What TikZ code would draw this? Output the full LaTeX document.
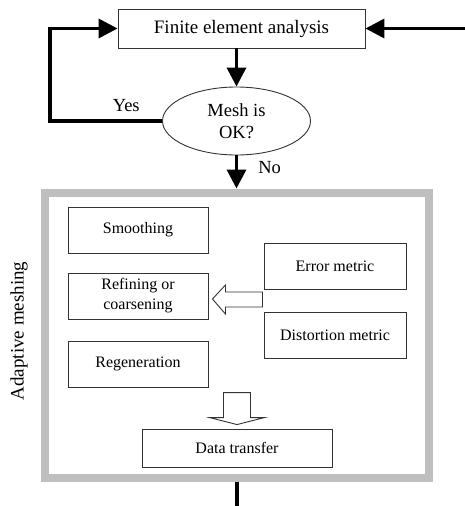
\documentclass[tikz,border=0pt]{standalone}
\usepackage{fontspec}
\setmainfont{Liberation Serif}
\usetikzlibrary{arrows.meta}
\usetikzlibrary{shapes}
\usetikzlibrary{calc}

\begin{document}
\begin{tikzpicture}[x=1pt, y=-1pt, >={Triangle[length=19pt,width=19pt]},
  flow/.style={line width=3.5pt},
  thin/.style={draw=black!80, line width=0.9pt},
  box/.style={thin, minimum width=140pt, minimum height=46pt, inner sep=0pt,
    align=center, font=\fontsize{16}{20}\selectfont},
  hollow/.style={thin, fill=white, line join=miter},
  lbl/.style={inner sep=0pt, font=\fontsize{18.5}{22}\selectfont}]
\useasboundingbox (0,0) rectangle (465,506);

%analysis loop
\node[thin, minimum width=247pt, minimum height=39pt, inner sep=0pt,
  font=\fontsize{19}{22}\selectfont] (fea) at (241.5,28.5) {Finite element analysis};
\node[thin, ellipse, minimum width=148pt, minimum height=68pt, inner sep=0pt,
  align=center, font=\fontsize{18.5}{22}\selectfont] (ok) at (236.5,121) {Mesh is\\OK?};
\coordinate (in) at (465,28.5);
\coordinate (out) at (237,506);

\draw[flow,->] (in) -- (fea.east);
\draw[flow,->] (ok.north |- fea.south) -- (ok.north);
\draw[flow,->] (ok.west) -- node[lbl, above=8pt, pos=0.32] {Yes} ++(-112,0) |- (fea.west);

%adaptive meshing
\node[draw=black!25, line width=8pt, minimum width=383.5pt, minimum height=285pt,
  inner sep=0pt] (adapt) at (236.75,335) {};
\node[rotate=90, font=\fontsize{19}{22}\selectfont] (side) at (19,331) {Adaptive meshing};

\draw[flow,->] (ok.south) -- node[lbl, right, xshift=20pt, pos=0.38] {No} (ok.south |- adapt.north);
\draw[flow] (adapt.south) -- (adapt.south |- out);

\foreach \name/\y/\txt in {smooth/230/Smoothing, refine/296/{Refining or\\coarsening}, regen/364/Regeneration} {
  \node[box] (\name) at (138,\y) {\txt};
}
\foreach \name/\y/\txt in {error/266/Error metric, distort/335/Distortion metric} {
  \node[box, minimum width=142pt] (\name) at (335,\y) {\txt};
}
\node[box, minimum width=190pt, minimum height=38pt] (transfer) at (237,448) {Data transfer};

\draw[hollow] ([xshift=4pt,yshift=-3pt]refine.east) -- ++(13,-14) -- ++(0,7) -- ++(37,0)
  -- ++(0,15) -- ++(-37,0) -- ++(0,7) -- cycle;
\draw[hollow] ([yshift=4pt]transfer.north) -- ++(-27.5,-7) -- ++(14,0) -- ++(0,-25)
  -- ++(27,0) -- ++(0,25) -- ++(14,0) -- cycle;
\end{tikzpicture}
\end{document}
